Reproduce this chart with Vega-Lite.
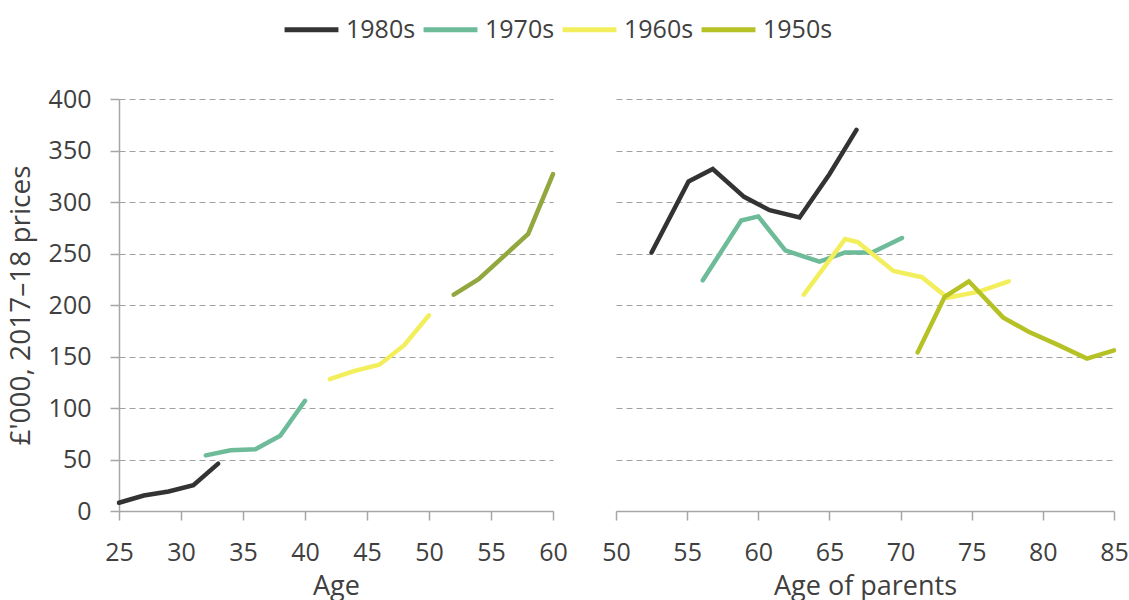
{
  "$schema": "https://vega.github.io/schema/vega-lite/v6.json",
  "padding": {"left": 7, "top": 0, "right": 5, "bottom": 5},
  "background": "white",
  "config": {
    "font": "Open Sans",
    "view": {"stroke": null},
    "axis": {
      "labelFontSize": 25,
      "titleFontSize": 27,
      "labelColor": "#404040",
      "titleColor": "#404040",
      "titleFontWeight": "normal",
      "domainColor": "#a6a6a6",
      "domainWidth": 1.5,
      "tickColor": "#a6a6a6",
      "tickWidth": 1.5,
      "tickSize": 9,
      "gridColor": "#a0a0a0",
      "gridDash": [6, 4],
      "gridWidth": 1,
      "labelFlush": false
    },
    "axisX": {"labelPadding": 20, "titlePadding": 8, "grid": false},
    "axisY": {"labelPadding": 19, "titlePadding": 13, "titleFontSize": 28},
    "legend": {
      "symbolType": "stroke",
      "symbolSize": 2900,
      "symbolStrokeWidth": 5,
      "labelFontSize": 25,
      "labelColor": "#404040",
      "labelOffset": 5,
      "columnPadding": -3,
      "padding": 0
    }
  },
  "datasets": {
    "left": [
      {"cohort": "1980s", "age": 25, "value": 8},
      {"cohort": "1980s", "age": 27, "value": 15},
      {"cohort": "1980s", "age": 29, "value": 19},
      {"cohort": "1980s", "age": 31, "value": 25},
      {"cohort": "1980s", "age": 33, "value": 46},
      {"cohort": "1970s", "age": 32, "value": 54},
      {"cohort": "1970s", "age": 34, "value": 59},
      {"cohort": "1970s", "age": 36, "value": 60},
      {"cohort": "1970s", "age": 38, "value": 73},
      {"cohort": "1970s", "age": 40, "value": 107},
      {"cohort": "1960s", "age": 42, "value": 128},
      {"cohort": "1960s", "age": 44, "value": 136},
      {"cohort": "1960s", "age": 46, "value": 142},
      {"cohort": "1960s", "age": 48, "value": 161},
      {"cohort": "1960s", "age": 50, "value": 190},
      {"cohort": "1950s", "age": 52, "value": 210},
      {"cohort": "1950s", "age": 54, "value": 225},
      {"cohort": "1950s", "age": 56, "value": 247},
      {"cohort": "1950s", "age": 58, "value": 269},
      {"cohort": "1950s", "age": 60, "value": 327}
    ],
    "right": [
      {"cohort": "1980s", "age": 52.5, "value": 251},
      {"cohort": "1980s", "age": 55.1, "value": 320},
      {"cohort": "1980s", "age": 56.8, "value": 332},
      {"cohort": "1980s", "age": 59.0, "value": 305},
      {"cohort": "1980s", "age": 60.8, "value": 292},
      {"cohort": "1980s", "age": 62.9, "value": 285},
      {"cohort": "1980s", "age": 65.0, "value": 327},
      {"cohort": "1980s", "age": 66.9, "value": 370},
      {"cohort": "1970s", "age": 56.1, "value": 224},
      {"cohort": "1970s", "age": 58.8, "value": 282},
      {"cohort": "1970s", "age": 60.0, "value": 286},
      {"cohort": "1970s", "age": 61.9, "value": 253},
      {"cohort": "1970s", "age": 64.3, "value": 242},
      {"cohort": "1970s", "age": 66.1, "value": 251},
      {"cohort": "1970s", "age": 68.0, "value": 251},
      {"cohort": "1970s", "age": 70.1, "value": 265},
      {"cohort": "1960s", "age": 63.2, "value": 210},
      {"cohort": "1960s", "age": 66.1, "value": 264},
      {"cohort": "1960s", "age": 67.0, "value": 261},
      {"cohort": "1960s", "age": 69.5, "value": 233},
      {"cohort": "1960s", "age": 71.5, "value": 227},
      {"cohort": "1960s", "age": 73.3, "value": 207},
      {"cohort": "1960s", "age": 75.5, "value": 213},
      {"cohort": "1960s", "age": 77.6, "value": 223},
      {"cohort": "1950s", "age": 71.2, "value": 154},
      {"cohort": "1950s", "age": 73.1, "value": 208},
      {"cohort": "1950s", "age": 74.8, "value": 223},
      {"cohort": "1950s", "age": 77.2, "value": 188},
      {"cohort": "1950s", "age": 79.0, "value": 174},
      {"cohort": "1950s", "age": 81.1, "value": 161},
      {"cohort": "1950s", "age": 83.1, "value": 148},
      {"cohort": "1950s", "age": 85.0, "value": 156}
    ]
  },
  "spacing": 63,
  "bounds": "flush",
  "resolve": {"scale": {"color": "independent"}},
  "hconcat": [
    {
      "width": 434,
      "height": 412,
      "data": {"name": "left"},
      "mark": {"type": "line", "strokeWidth": 4.5, "strokeCap": "round"},
      "encoding": {
        "x": {
          "field": "age", "type": "quantitative",
          "scale": {"domain": [25, 60], "nice": false, "zero": false},
          "axis": {"values": [25, 30, 35, 40, 45, 50, 55, 60], "title": "Age"}
        },
        "y": {
          "field": "value", "type": "quantitative",
          "scale": {"domain": [0, 400], "nice": false},
          "axis": {"values": [0, 50, 100, 150, 200, 250, 300, 350, 400], "title": "£'000, 2017–18 prices", "grid": true}
        },
        "color": {
          "field": "cohort", "type": "nominal",
          "scale": {"domain": ["1980s", "1970s", "1960s", "1950s"], "range": ["#333333", "#6dbb98", "#f3ef5c", "#93a73f"]},
          "legend": null
        }
      }
    },
    {
      "width": 498,
      "height": 412,
      "data": {"name": "right"},
      "mark": {"type": "line", "strokeWidth": 4.5, "strokeCap": "round"},
      "encoding": {
        "x": {
          "field": "age", "type": "quantitative",
          "scale": {"domain": [50, 85], "nice": false, "zero": false},
          "axis": {"values": [50, 55, 60, 65, 70, 75, 80, 85], "title": "Age of parents"}
        },
        "y": {
          "field": "value", "type": "quantitative",
          "scale": {"domain": [0, 400], "nice": false},
          "axis": {"values": [0, 50, 100, 150, 200, 250, 300, 350, 400], "title": null, "grid": true, "labels": false, "ticks": false, "domain": false}
        },
        "color": {
          "field": "cohort", "type": "nominal",
          "scale": {"domain": ["1980s", "1970s", "1960s", "1950s"], "range": ["#333333", "#6dbb98", "#f3ef5c", "#b5c124"]},
          "legend": {"orient": "none", "direction": "horizontal", "title": null, "legendX": -334, "legendY": -99}
        }
      }
    }
  ]
}
